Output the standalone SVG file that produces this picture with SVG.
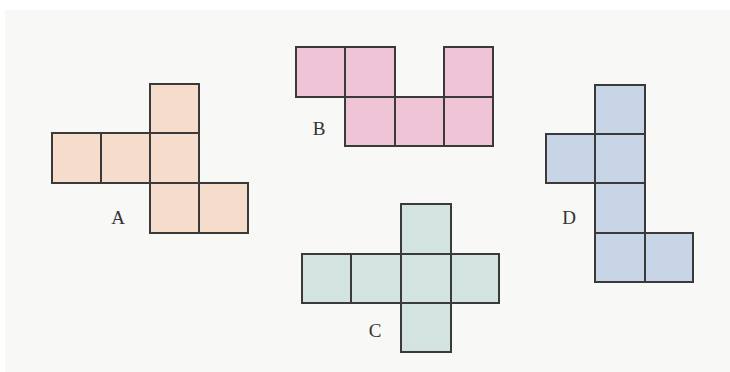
<svg xmlns="http://www.w3.org/2000/svg" width="730" height="372" viewBox="0 0 730 372">
<style>
.sq{stroke:#3a3a3a;stroke-width:2;stroke-linejoin:miter}
.a{fill:#f5dccb}.b{fill:#eec4d6}.c{fill:#d3e4e0}.d{fill:#c8d5e6}
.lbl{font-family:"Liberation Serif","DejaVu Serif",serif;font-size:19px;fill:#333;text-anchor:middle;dominant-baseline:central}
</style>
<rect x="0" y="0" width="730" height="372" fill="#ffffff"/>
<rect x="5" y="10" width="725" height="362" fill="#f8f8f6"/>
<g id="netA">
<rect class="sq a" x="150" y="84" width="49" height="49"/>
<rect class="sq a" x="52" y="133" width="49" height="50"/>
<rect class="sq a" x="101" y="133" width="49" height="50"/>
<rect class="sq a" x="150" y="133" width="49" height="50"/>
<rect class="sq a" x="150" y="183" width="49" height="50"/>
<rect class="sq a" x="199" y="183" width="49" height="50"/>
<text class="lbl" x="118" y="217">A</text>
</g>
<g id="netB">
<rect class="sq b" x="296" y="47" width="49" height="50"/>
<rect class="sq b" x="345" y="47" width="50" height="50"/>
<rect class="sq b" x="444" y="47" width="49" height="50"/>
<rect class="sq b" x="345" y="97" width="50" height="49"/>
<rect class="sq b" x="395" y="97" width="49" height="49"/>
<rect class="sq b" x="444" y="97" width="49" height="49"/>
<text class="lbl" x="319" y="128">B</text>
</g>
<g id="netC">
<rect class="sq c" x="401" y="204" width="50" height="50"/>
<rect class="sq c" x="302" y="254" width="49" height="49"/>
<rect class="sq c" x="351" y="254" width="50" height="49"/>
<rect class="sq c" x="401" y="254" width="50" height="49"/>
<rect class="sq c" x="451" y="254" width="48" height="49"/>
<rect class="sq c" x="401" y="303" width="50" height="49"/>
<text class="lbl" x="375" y="330">C</text>
</g>
<g id="netD">
<rect class="sq d" x="595" y="85" width="50" height="49"/>
<rect class="sq d" x="546" y="134" width="49" height="49"/>
<rect class="sq d" x="595" y="134" width="50" height="49"/>
<rect class="sq d" x="595" y="183" width="50" height="50"/>
<rect class="sq d" x="595" y="233" width="50" height="49"/>
<rect class="sq d" x="645" y="233" width="48" height="49"/>
<text class="lbl" x="569" y="217">D</text>
</g>
<g id="connectors"></g>
</svg>
